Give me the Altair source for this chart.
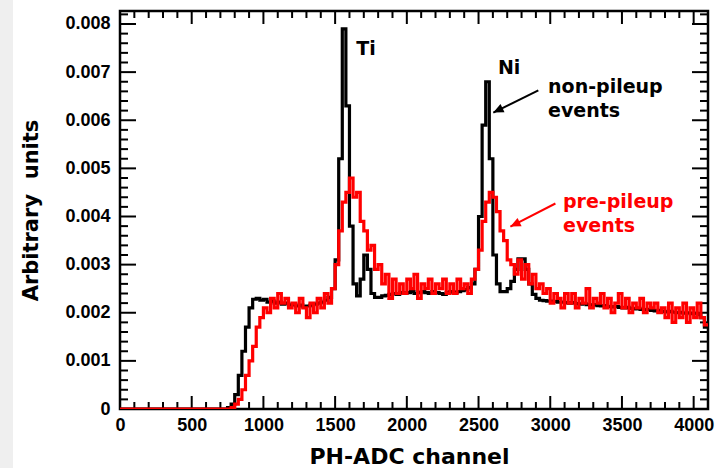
import altair as alt
import pandas as pd

BIN = 25  # channel width of each histogram bin

# non-pileup events (black), one value per 25-channel bin starting at channel 0
black = (
    [0.0] * 30
    + [0.00003, 0.0001, 0.0003, 0.0007, 0.0012, 0.0017, 0.0021, 0.00228, 0.00230, 0.00226]
    + [0.00228, 0.00222, 0.00224, 0.00220, 0.00222, 0.00218, 0.00220, 0.00216, 0.00218, 0.00214]
    + [0.00216, 0.00212, 0.00214, 0.00216, 0.00218, 0.00220, 0.00222, 0.00226, 0.00232, 0.00250]
    + [0.0031, 0.0052, 0.0079, 0.0063, 0.0038, 0.0026, 0.00235, 0.0027, 0.0032, 0.0029]
    + [0.0024, 0.00232, 0.00232, 0.00235, 0.00236, 0.00238, 0.00240, 0.00238, 0.00242, 0.00240]
    + [0.00242, 0.00244, 0.00240, 0.00242, 0.00244, 0.00242, 0.00240, 0.00244, 0.00242, 0.00240]
    + [0.00238, 0.00242, 0.00244, 0.00242, 0.00244, 0.00246, 0.00248, 0.00252, 0.0026, 0.0029]
    + [0.0040, 0.0059, 0.0068, 0.0052, 0.0032, 0.0026, 0.00244, 0.00244, 0.00250, 0.00265]
    + [0.0029, 0.00312, 0.00312, 0.0029, 0.0026, 0.00238, 0.00230, 0.00226, 0.00225, 0.00224]
    + [0.00224, 0.00223, 0.00222, 0.00222, 0.00221, 0.00220, 0.00221, 0.00219, 0.00218, 0.00219]
    + [0.00217, 0.00216, 0.00217, 0.00215, 0.00214, 0.00215, 0.00213, 0.00212, 0.00213, 0.00211]
    + [0.00210, 0.00211, 0.00209, 0.00208, 0.00209, 0.00207, 0.00206, 0.00207, 0.00205, 0.00204]
    + [0.00205, 0.00203, 0.00202, 0.00203, 0.00201, 0.00200, 0.00201, 0.00199, 0.00200, 0.00198]
    + [0.00199, 0.00196, 0.0019, 0.0017]
)

# pre-pileup events (red)
red = (
    [0.0] * 30
    + [0.0, 0.00003, 0.0001, 0.0002, 0.0004, 0.0007, 0.0010, 0.0013, 0.0017, 0.0019]
    + [0.0021, 0.0020, 0.0023, 0.0021, 0.0024, 0.0022, 0.0023, 0.0021, 0.0022, 0.0020]
    + [0.0023, 0.0021, 0.0019, 0.0022, 0.0020, 0.0023, 0.0021, 0.0024, 0.0022, 0.0025]
    + [0.0030, 0.0037, 0.0043, 0.0045, 0.0048, 0.0044, 0.0045, 0.0039, 0.0037, 0.0033]
    + [0.0034, 0.0029, 0.0030, 0.0026, 0.0028, 0.0023, 0.0027, 0.0024, 0.0026, 0.0024]
    + [0.0027, 0.0025, 0.0028, 0.0023, 0.0026, 0.0025, 0.0027, 0.0024, 0.0026, 0.0025]
    + [0.0027, 0.0024, 0.0026, 0.0024, 0.0027, 0.0025, 0.0026, 0.0024, 0.0027, 0.0029]
    + [0.0033, 0.0039, 0.0043, 0.0045, 0.0044, 0.0041, 0.0037, 0.0035, 0.0031, 0.0030]
    + [0.0028, 0.0031, 0.0027, 0.0030, 0.0026, 0.0028, 0.0025, 0.0026, 0.0024, 0.0025]
    + [0.0022, 0.0024, 0.0023, 0.0021, 0.0024, 0.0022, 0.0024, 0.0021, 0.0023, 0.0022]
    + [0.0025, 0.0021, 0.0023, 0.0022, 0.0024, 0.0021, 0.0023, 0.0020, 0.0022, 0.0024]
    + [0.0021, 0.0023, 0.0020, 0.0022, 0.0021, 0.0023, 0.0020, 0.0022, 0.0021, 0.0022]
    + [0.0020, 0.0021, 0.0019, 0.0022, 0.0018, 0.0021, 0.0019, 0.0022, 0.0018, 0.0021]
    + [0.0019, 0.0022, 0.0019, 0.00175]
)

x_major = [0, 500, 1000, 1500, 2000, 2500, 3000, 3500, 4000]
x_minor = [v for v in range(100, 4100, 100) if v % 500 != 0]
y_major = [0, 0.001, 0.002, 0.003, 0.004, 0.005, 0.006, 0.007, 0.008]
y_minor = [round(k * 0.0002, 4) for k in range(1, 42) if k % 5 != 0]

labels = ["Ti", "Ni", "non-pileup", "events", "pre-pileup", "events"]
label_x = [1715, 2713, 2985, 2985, 3089, 3089]
label_y = [0.00735, 0.00697, 0.00656, 0.00606, 0.00417, 0.00367]
label_col = ["black", "black", "black", "black", "red", "red"]
label_align = ["center", "center", "left", "left", "left", "left"]

arrow_x = [2917, 3036]
arrow_y = [0.00662, 0.00427]
arrow_x2 = [2603, 2722]
arrow_y2 = [0.00616, 0.00379]
arrow_col = ["black", "red"]

XMAX = 4100
YMAX = 0.00827
W, H = 588, 398

def steps(vals):
    edges = [i * BIN for i in range(len(vals))] + [len(vals) * BIN]
    return pd.DataFrame({"ch": edges, "val": list(vals) + [vals[-1]]})

xs = alt.Scale(domain=[0, XMAX], nice=False, zero=False)
ys = alt.Scale(domain=[0, YMAX], nice=False, zero=False)

LAB = "Liberation Sans"
TIT = "DejaVu Sans"

x_axis = alt.Axis(values=x_major, format="d", labelFont=LAB, labelFontSize=18,
                  labelFontWeight="bold", labelColor="black", ticks=False, tickSize=0,
                  domain=False, grid=False, labelPadding=7, labelFlush=False,
                  labelOverlap=False, title="PH-ADC channel", titleFont=TIT,
                  titleFontSize=22, titleFontWeight="bold", titleColor="black",
                  titleX=289, titleY=54, titleBaseline="alphabetic", titleAlign="center")
y_axis = alt.Axis(values=y_major,
                  labelExpr="datum.value == 0 ? '0' : format(datum.value, '.3f')",
                  labelFont=LAB, labelFontSize=18, labelFontWeight="bold",
                  labelColor="black", ticks=False, tickSize=0, domain=False, grid=False,
                  labelPadding=10, labelFlush=False, labelOverlap=False,
                  title="Arbitrary\u00a0 units", titleFont=TIT, titleFontSize=21,
                  titleFontWeight="bold", titleColor="black", titleX=-89, titleY=199,
                  titleAngle=270, titleBaseline="middle", titleAlign="center")

def X(f):
    return alt.X(f, scale=xs, axis=x_axis)

def Y(f):
    return alt.Y(f, scale=ys, axis=y_axis)

strip = alt.Chart(pd.DataFrame({"a": [0]})).mark_rect(color="#efefef").encode(
    x=alt.value(-120), x2=alt.value(-107), y=alt.value(-11), y2=alt.value(H + 59))

def xticks(vals, length):
    d = pd.DataFrame({"t": vals})
    b = alt.Chart(d).mark_rule(color="black", strokeWidth=2).encode(
        x=X("t:Q"), y=alt.value(H), y2=alt.value(H - length))
    t = alt.Chart(d).mark_rule(color="black", strokeWidth=2).encode(
        x=X("t:Q"), y=alt.value(0), y2=alt.value(length))
    return [b, t]

def yticks(vals, length):
    d = pd.DataFrame({"t": vals})
    l = alt.Chart(d).mark_rule(color="black", strokeWidth=2).encode(
        y=Y("t:Q"), x=alt.value(0), x2=alt.value(length))
    r = alt.Chart(d).mark_rule(color="black", strokeWidth=2).encode(
        y=Y("t:Q"), x=alt.value(W), x2=alt.value(W - length))
    return [l, r]

black_line = alt.Chart(steps(black)).mark_line(
    interpolate="step-after", color="black", strokeWidth=3.2, clip=True).encode(
    x=X("ch:Q"), y=Y("val:Q"))
red_line = alt.Chart(steps(red)).mark_line(
    interpolate="step-after", color="#ff0000", strokeWidth=3.2, clip=True).encode(
    x=X("ch:Q"), y=Y("val:Q"))

adf = pd.DataFrame({"x": arrow_x, "y": arrow_y, "x2": arrow_x2, "y2": arrow_y2, "c": arrow_col})
arrow_lines = alt.Chart(adf).mark_rule(strokeWidth=2).encode(
    x=X("x:Q"), y=Y("y:Q"), x2="x2:Q", y2="y2:Q", color=alt.Color("c:N", scale=None))
arrow_heads = alt.Chart(adf).mark_point(
    shape="M0,0L-0.45,1L0.45,1Z", size=420, filled=True, opacity=1, angle=244).encode(
    x=X("x2:Q"), y=Y("y2:Q"), color=alt.Color("c:N", scale=None))

tdf = pd.DataFrame({"x": label_x, "y": label_y, "t": labels, "c": label_col, "a": label_align})
texts = []
for al in ["center", "left"]:
    texts.append(alt.Chart(tdf[tdf["a"] == al]).mark_text(
        font=TIT, fontSize=19, fontWeight="bold", align=al, baseline="alphabetic").encode(
        x=X("x:Q"), y=Y("y:Q"), text="t:N", color=alt.Color("c:N", scale=None)))

layers = [strip] + xticks(x_major, 13) + xticks(x_minor, 7) + yticks(y_major, 16) \
    + yticks(y_minor, 8) + [black_line, red_line, arrow_lines, arrow_heads] + texts

chart = alt.layer(*layers).properties(
    width=W, height=H,
    padding={"left": 120, "top": 11, "right": 12, "bottom": 59},
    autosize=alt.AutoSizeParams(type="none"),
    background="white",
).configure_view(stroke="black", strokeWidth=2.5)

chart.save("out.html", embed_options={"renderer": "svg", "actions": False})
